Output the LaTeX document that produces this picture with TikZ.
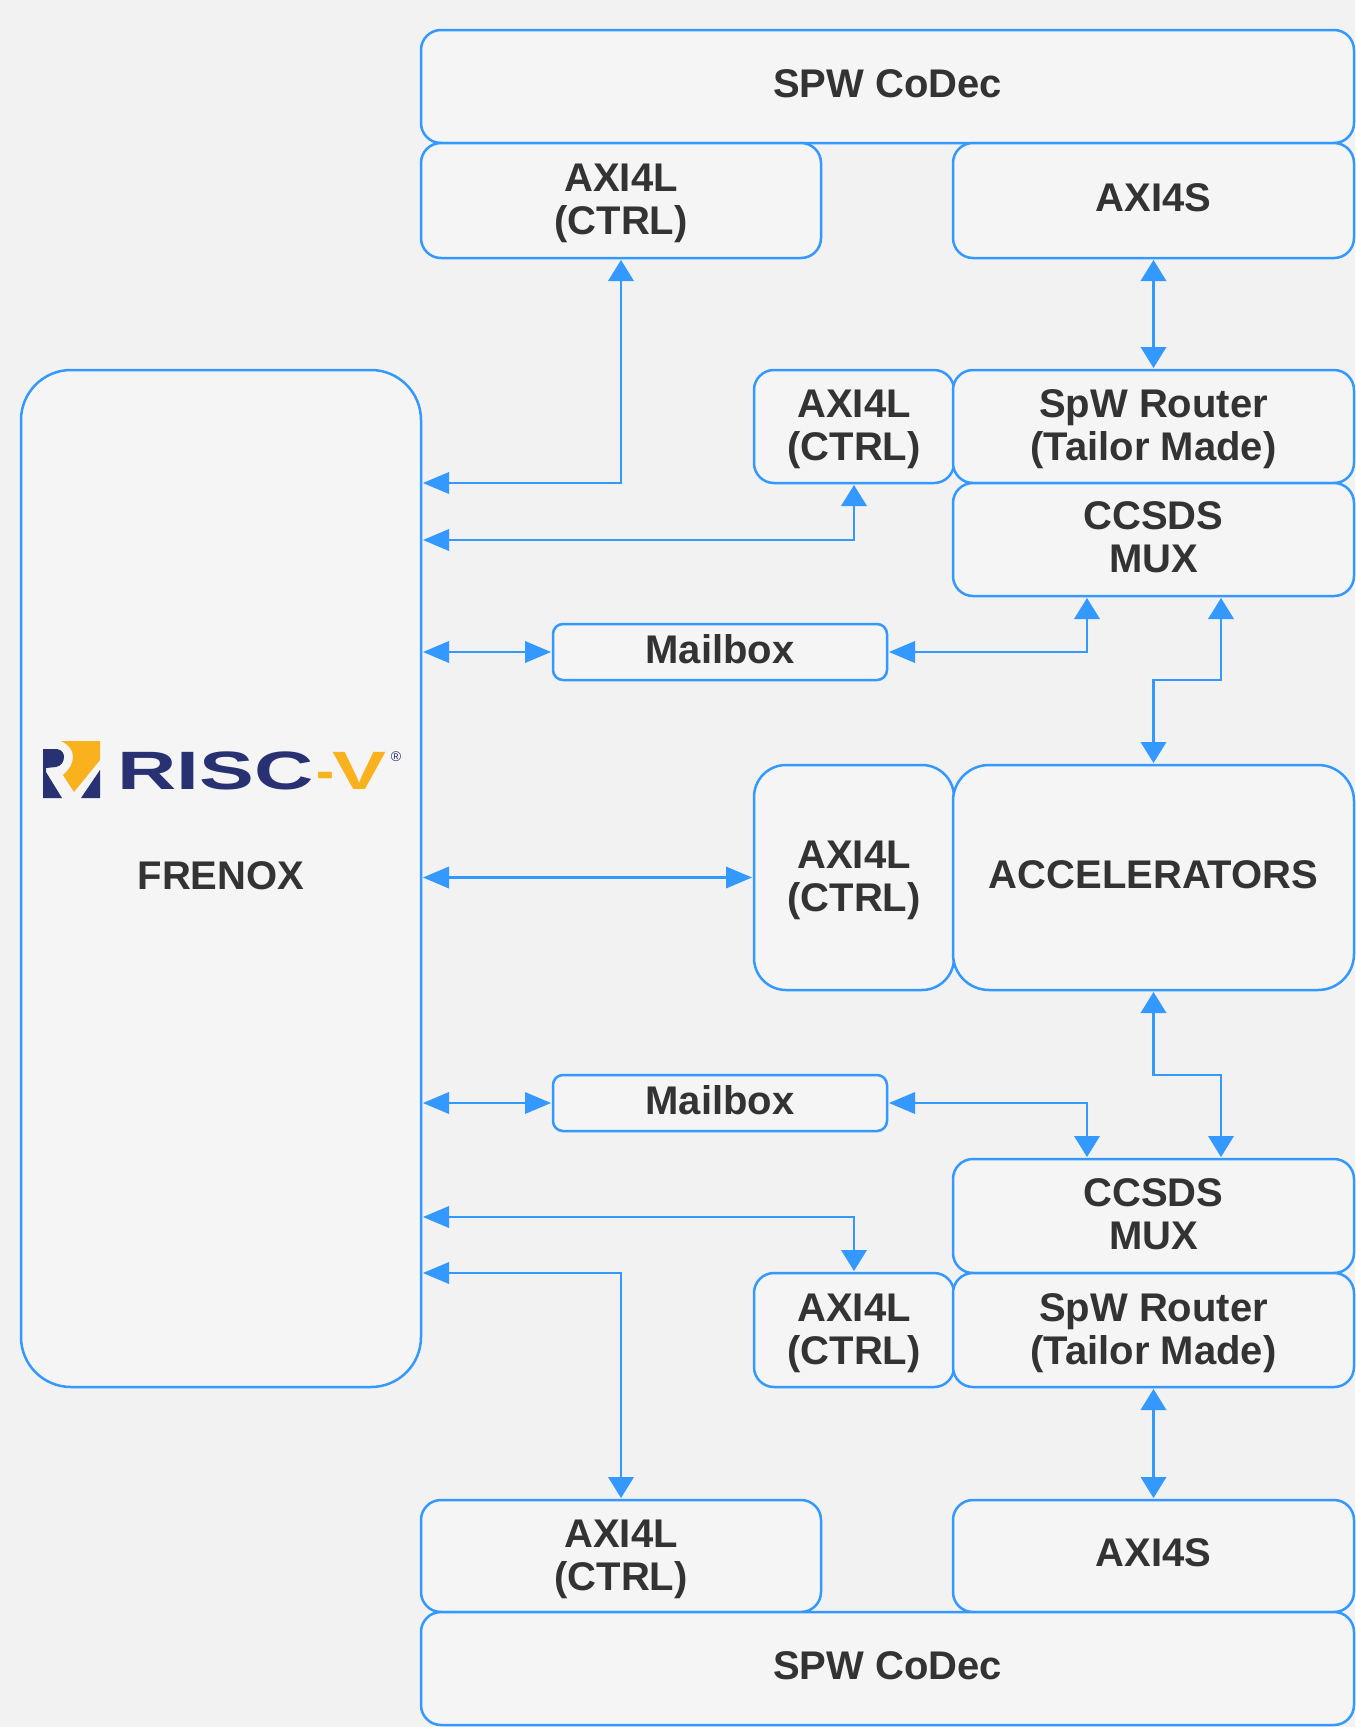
\documentclass[tikz,border=0pt]{standalone}
\usepackage{fontspec}
\setmainfont{Liberation Sans}
\usetikzlibrary{arrows.meta}
\definecolor{pagecolor}{HTML}{F2F2F2}
\definecolor{boxcolor}{HTML}{F5F5F5}
\definecolor{linecolor}{HTML}{3399FF}
\definecolor{labelcolor}{HTML}{333333}
\definecolor{logoblue}{HTML}{283272}
\definecolor{logoyellow}{HTML}{F9B21D}
\begin{document}
\begin{tikzpicture}[x=1pt,y=-1pt,
% styles for blocks and links
blockbox/.style={rectangle, draw=linecolor, fill=boxcolor, line width=2.5pt, rounded corners=20pt, inner sep=0pt, outer sep=0pt, align=center, text depth=6pt, text=labelcolor, font=\fontsize{40}{43}\selectfont\bfseries},
ctrlbox/.style={blockbox, text depth=2pt},
muxbox/.style={blockbox, text depth=4pt},
flat/.tip={Triangle[length=26pt,width=22pt,line width=0pt,fill=linecolor]},
tall/.tip={Triangle[length=21pt,width=26pt,line width=0pt,fill=linecolor]},
linkarrow/.style={draw=linecolor, line width=2.5pt, shorten <=2pt, shorten >=2pt}
]
\useasboundingbox[fill=pagecolor] (0,0) rectangle (1355,1727);

% top stack
\node[blockbox, minimum width=933pt, minimum height=113pt] (codectop) at (887.5,86.5) {SPW CoDec};
\node[ctrlbox, minimum width=400pt, minimum height=115pt] (axictrla) at (621,200.5) {AXI4L\\(CTRL)};
\node[blockbox, minimum width=401pt, minimum height=115pt] (axista) at (1153.5,200.5) {AXI4S};

% processor
\node[blockbox, rounded corners=50pt, minimum width=400pt, minimum height=1017pt] (frenox) at (221,878.5) {FRENOX};

\node[ctrlbox, minimum width=200pt, minimum height=113pt] (axictrlb) at (854,426.5) {AXI4L\\(CTRL)};
\node[ctrlbox, minimum width=401pt, minimum height=113pt] (routera) at (1153.5,426.5) {SpW Router\\(Tailor Made)};
\node[muxbox, minimum width=401pt, minimum height=113pt] (ccsdsa) at (1153.5,539.5) {CCSDS\\MUX};
\node[blockbox, rounded corners=10pt, minimum width=334pt, minimum height=56pt] (mailboxa) at (720,652) {Mailbox};

\node[ctrlbox, rounded corners=32pt, minimum width=200pt, minimum height=225pt] (axictrlc) at (854,877.5) {AXI4L\\(CTRL)};
\node[blockbox, rounded corners=36pt, minimum width=401pt, minimum height=225pt] (accel) at (1153.5,877.5) {ACCELERATORS};

\node[blockbox, rounded corners=10pt, minimum width=334pt, minimum height=56pt] (mailboxb) at (720,1103) {Mailbox};
\node[muxbox, minimum width=401pt, minimum height=114pt] (ccsdsb) at (1153.5,1216) {CCSDS\\MUX};
\node[ctrlbox, minimum width=200pt, minimum height=114pt] (axictrld) at (854,1330) {AXI4L\\(CTRL)};
\node[ctrlbox, minimum width=401pt, minimum height=114pt] (routerb) at (1153.5,1330) {SpW Router\\(Tailor Made)};

% bottom stack
\node[ctrlbox, minimum width=400pt, minimum height=112pt] (axictrle) at (621,1556) {AXI4L\\(CTRL)};
\node[blockbox, minimum width=401pt, minimum height=112pt] (axistb) at (1153.5,1556) {AXI4S};
\node[blockbox, minimum width=933pt, minimum height=113pt] (codecbot) at (887.5,1668.5) {SPW CoDec};

% ports on the long edges
\coordinate (frenoxa) at (421,483);
\coordinate (frenoxb) at (421,540);
\coordinate (frenoxc) at (421,1217);
\coordinate (frenoxd) at (421,1273);
\coordinate (ccsdsaleft) at (1087,596);
\coordinate (ccsdsaright) at (1221,596);
\coordinate (ccsdsbleft) at (1087,1159);
\coordinate (ccsdsbright) at (1221,1159);

% links
\draw[linkarrow, flat-tall] (frenoxa) -| (axictrla.south);
\draw[linkarrow, flat-tall] (frenoxb) -| (axictrlb.south);
\draw[linkarrow, flat-flat] (frenox.east |- mailboxa.west) -- (mailboxa.west);
\draw[linkarrow, flat-tall] (mailboxa.east) -| (ccsdsaleft);
\draw[linkarrow, tall-tall] (axista.south) -- (routera.north);
\draw[linkarrow, tall-tall] (ccsdsaright) -- ++(0,84) -| (accel.north);
\draw[linkarrow, flat-flat] (frenox.east |- axictrlc.west) -- (axictrlc.west);
\draw[linkarrow, tall-tall] (accel.south) -- ++(0,85) -| (ccsdsbright);
\draw[linkarrow, flat-flat] (frenox.east |- mailboxb.west) -- (mailboxb.west);
\draw[linkarrow, flat-tall] (mailboxb.east) -| (ccsdsbleft);
\draw[linkarrow, flat-tall] (frenoxc) -| (axictrld.north);
\draw[linkarrow, flat-tall] (frenoxd) -| (axictrle.north);
\draw[linkarrow, tall-tall] (routerb.south) -- (axistb.north);

% logo
\fill[logoyellow] (61,741) -- (100,741) -- (100,760) -- (74,792) -- (63,775) .. controls (70,769) and (73,763) .. (73,756) .. controls (73,750) and (68,744) .. (61,741) -- cycle;
\fill[logoblue] (43,749) -- (57,749) .. controls (62,750) and (64,753) .. (64,757) .. controls (64,762) and (61,766) .. (56,767) -- (46,768) -- (46,772) -- (62,798) -- (43,798) -- cycle;
\fill[logoblue] (100,770) -- (100,798) -- (81,798) -- cycle;
\node[anchor=base west, inner sep=0pt, xscale=1.52, transform shape, text=logoblue, font=\fontsize{54}{54}\selectfont\bfseries] (logorisc) at (117,789) {RISC};
\node[anchor=base west, inner sep=0pt, text=logoyellow, font=\fontsize{54}{54}\selectfont\bfseries] (logodash) at (316,789) {-};
\node[anchor=base west, inner sep=0pt, xscale=1.5, transform shape, text=logoyellow, font=\fontsize{54}{54}\selectfont\bfseries] (logov) at (332,789) {V};
\node[inner sep=0pt, text=logoblue, font=\fontsize{14}{14}\selectfont] (logomark) at (396,757) {®};
\end{tikzpicture}
\end{document}
